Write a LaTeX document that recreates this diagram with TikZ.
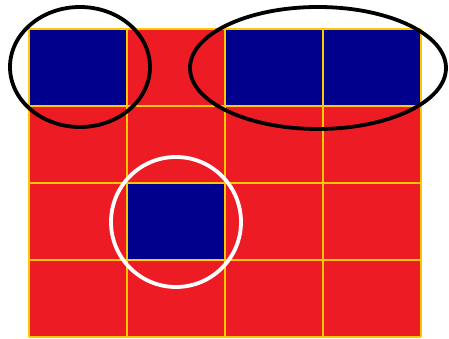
\documentclass[tikz,border=0pt]{standalone}
\usepackage{xcolor}
\definecolor{cellred}{RGB}{237,28,36}
\definecolor{cellblue}{RGB}{0,0,140}
\definecolor{gridline}{RGB}{255,200,0}

\begin{document}
\begin{tikzpicture}[x=0.025cm,y=-0.025cm]
    \useasboundingbox (0,0) rectangle (449,339);
    % red board
    \fill[cellred] (29,29) rectangle (421,337);
    % blue cells
    \foreach \c/\r in {0/0,2/0,3/0,1/2}{\fill[cellblue] (29+98*\c,29+77*\r) rectangle (127+98*\c,106+77*\r);}
    % grid
    \foreach \x in {29,127,225,323,421}{\draw[gridline,line width=0.75pt] (\x,29) -- (\x,337);}
    \foreach \y in {29,106,183,260,337}{\draw[gridline,line width=0.75pt] (29,\y) -- (421,\y);}
    % marks
    \draw[black,line width=2.7pt] (80,67) ellipse (70 and 60);
    \draw[black,line width=2.7pt] (318,68) ellipse (128 and 61);
    \draw[white,line width=2.7pt] (176,222) circle (65);
  \end{tikzpicture}
\end{document}
